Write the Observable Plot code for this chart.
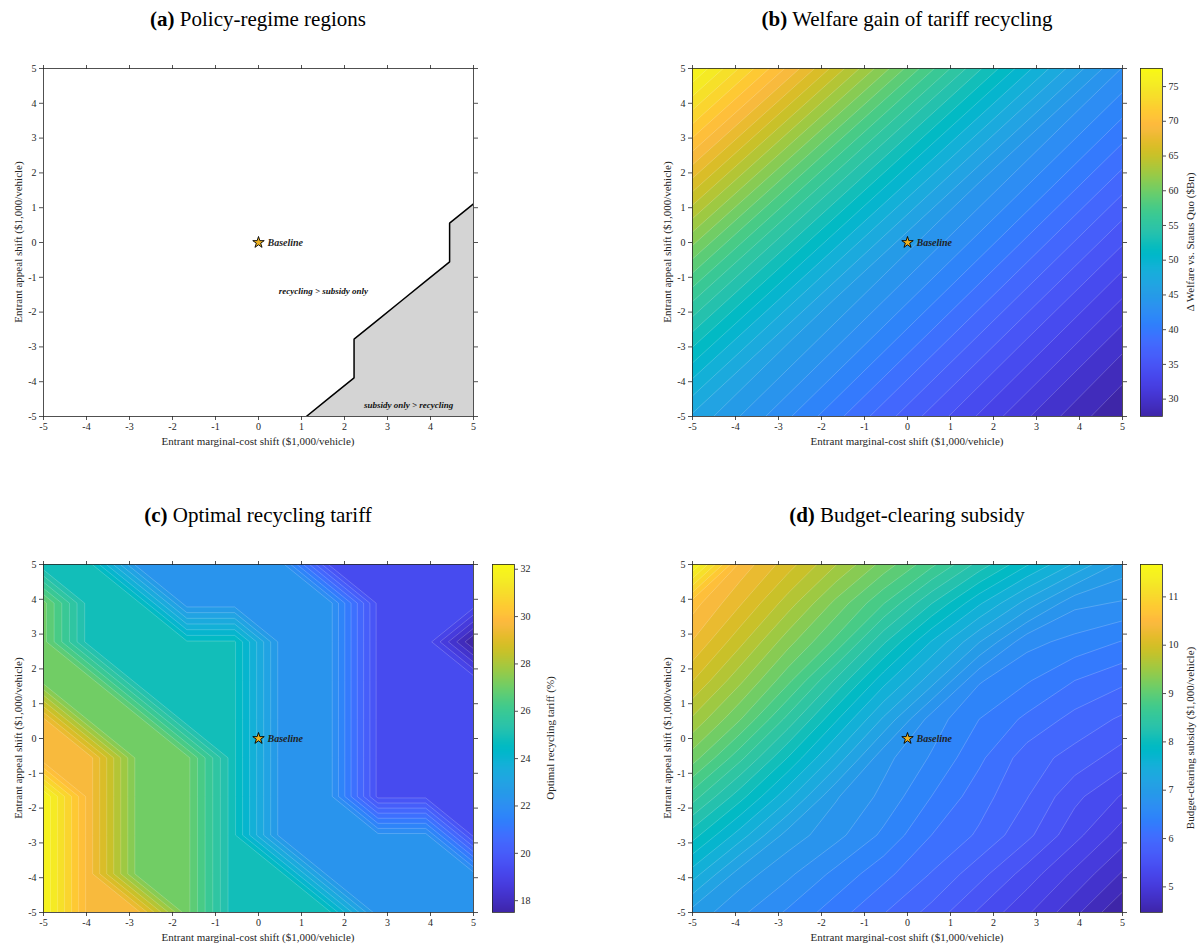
<!DOCTYPE html>
<html>
<head>
<meta charset="utf-8">
<script src="https://cdn.jsdelivr.net/npm/d3@7"></script>
<script src="https://cdn.jsdelivr.net/npm/@observablehq/plot@0.6"></script>
<style>
  body { margin: 0; background: #fff; }
  #fig { position: relative; width: 1201px; height: 949px; font-family: "Liberation Serif", "Times New Roman", serif; color: #262626; overflow: hidden; }
  #fig svg { position: absolute; }
  .title { position: absolute; font-size: 21px; line-height: 22px; color: #000; white-space: nowrap; transform: translateX(-50%); }
  .xlab { position: absolute; font-size: 11px; line-height: 13px; white-space: nowrap; transform: translateX(-50%); }
  .ylab { position: absolute; font-size: 11px; line-height: 13px; white-space: nowrap; transform: translate(-50%, -50%) rotate(-90deg); }
</style>
</head>
<body>
<div id="fig"></div>
<script>
// ---- Shared axis values ----------------------------------------------------
const axisTicks = [-5, -4, -3, -2, -1, 0, 1, 2, 3, 4, 5];
const baseline = [{x: 0, y: 0, label: "Baseline"}];

// Simulation grid: 10 × 10 samples from -5 to 5 on both shifts.
// Rows run from appeal shift +5 (top) down to -5; columns from cost shift -5 to +5.

// (a) 1 where "subsidy only" beats "recycling", 0 otherwise
const regimeRows = [
  [0, 0, 0, 0, 0, 0, 0, 0, 0, 0],
  [0, 0, 0, 0, 0, 0, 0, 0, 0, 0],
  [0, 0, 0, 0, 0, 0, 0, 0, 0, 0],
  [0, 0, 0, 0, 0, 0, 0, 0, 0, 0],
  [0, 0, 0, 0, 0, 0, 0, 0, 0, 1],
  [0, 0, 0, 0, 0, 0, 0, 0, 0, 1],
  [0, 0, 0, 0, 0, 0, 0, 0, 1, 1],
  [0, 0, 0, 0, 0, 0, 0, 1, 1, 1],
  [0, 0, 0, 0, 0, 0, 0, 1, 1, 1],
  [0, 0, 0, 0, 0, 0, 1, 1, 1, 1]
];
const regimeLabels = [
  {x: 1.51, y: -1.4, text: "recycling > subsidy only"},
  {x: 3.49, y: -4.66, text: "subsidy only > recycling"}
];

// (b) Δ welfare of tariff recycling vs. status quo ($Bn)
const welfareRows = [
  [77.6, 73.7, 69.8, 65.8, 61.8, 57.8, 54.0, 50.4, 46.9, 43.7],
  [74.1, 70.2, 66.2, 62.2, 58.2, 54.4, 50.8, 47.3, 44.1, 41.8],
  [70.6, 66.6, 62.6, 58.6, 54.8, 51.2, 47.7, 44.5, 42.2, 39.9],
  [67.0, 63.0, 59.0, 55.2, 51.6, 48.1, 44.9, 42.6, 40.3, 38.0],
  [63.4, 59.4, 55.6, 52.0, 48.5, 45.3, 43.0, 40.7, 38.4, 36.1],
  [59.8, 56.0, 52.4, 48.9, 45.7, 43.4, 41.1, 38.8, 36.5, 34.2],
  [56.4, 52.8, 49.3, 46.1, 43.8, 41.5, 39.2, 36.9, 34.6, 32.4],
  [53.2, 49.7, 46.5, 44.2, 41.9, 39.6, 37.3, 35.0, 32.8, 30.6],
  [50.1, 46.9, 44.6, 42.3, 40.0, 37.7, 35.4, 33.2, 31.0, 29.0],
  [47.3, 45.0, 42.7, 40.4, 38.1, 35.8, 33.6, 31.4, 29.4, 27.5]
];
const welfareTicks = [30, 35, 40, 45, 50, 55, 60, 65, 70, 75];

// (c) optimal recycling tariff (%)
const tariffRows = [
  [24.9, 24.9, 22.4, 22.4, 22.4, 22.4, 19.6, 19.6, 19.6, 19.6],
  [27.2, 24.9, 24.9, 22.4, 22.4, 22.4, 22.4, 19.6, 19.6, 19.6],
  [27.2, 24.9, 24.9, 24.9, 24.9, 22.4, 22.4, 19.6, 19.6, 17.5],
  [27.2, 27.2, 24.9, 24.9, 24.9, 22.4, 22.4, 19.6, 19.6, 19.6],
  [29.7, 27.2, 27.2, 24.9, 24.9, 22.4, 22.4, 19.6, 19.6, 19.6],
  [29.7, 29.7, 27.2, 27.2, 24.9, 22.4, 22.4, 19.6, 19.6, 19.6],
  [32.2, 29.7, 27.2, 27.2, 24.9, 22.4, 22.4, 19.6, 19.6, 19.6],
  [32.2, 29.7, 27.2, 27.2, 24.9, 22.4, 22.4, 22.4, 22.4, 19.6],
  [32.2, 29.7, 27.2, 27.2, 24.9, 24.9, 22.4, 22.4, 22.4, 22.4],
  [32.2, 29.7, 29.7, 27.2, 24.9, 24.9, 24.9, 22.4, 22.4, 22.4]
];
const tariffTicks = [18, 20, 22, 24, 26, 28, 30, 32];

// (d) budget-clearing subsidy ($1,000/vehicle)
const subsidyRows = [
  [11.67, 10.53, 10.13, 9.70, 9.26, 8.84, 8.36, 7.91, 7.50, 7.10],
  [10.67, 10.25, 9.78, 9.28, 8.80, 8.26, 7.74, 7.28, 6.86, 6.79],
  [10.40, 9.92, 9.40, 8.92, 8.28, 7.70, 7.18, 6.69, 6.57, 6.44],
  [10.06, 9.55, 9.02, 8.40, 7.78, 7.25, 6.65, 6.47, 6.27, 6.13],
  [9.66, 9.16, 8.55, 7.92, 7.32, 6.73, 6.45, 6.23, 6.03, 5.88],
  [9.24, 8.66, 8.06, 7.47, 6.87, 6.61, 6.31, 6.00, 5.84, 5.64],
  [8.70, 8.14, 7.58, 7.01, 6.76, 6.45, 6.17, 5.92, 5.60, 5.35],
  [8.15, 7.62, 7.09, 6.87, 6.59, 6.27, 6.06, 5.78, 5.43, 5.10],
  [7.62, 7.08, 6.85, 6.58, 6.33, 6.08, 5.80, 5.47, 5.15, 4.81],
  [7.10, 6.85, 6.60, 6.35, 6.10, 5.85, 5.52, 5.22, 4.88, 4.47]
];
const subsidyTicks = [5, 6, 7, 8, 9, 10, 11];

// ---- Styling ---------------------------------------------------------------
const INK = "#262626";
const PARULA = [
  "#3e26a8","#4029b5","#422ec0","#4332cb","#4537d5","#463cde","#4741e5","#4746eb",
  "#474cf0","#4852f4","#4758f8","#465efa","#4463fc","#4269fd","#3e6ffe","#3875fe",
  "#327cfc","#2e82fa","#2d88f7","#2d8df3","#2b92ef","#2797eb","#259be7","#24a0e4",
  "#20a5e2","#1ca9de","#18addb","#11b1d6","#08b4d0","#01b7ca","#02bac3","#0bbcbc",
  "#18bfb5","#24c1ae","#2cc3a7","#31c69f","#37c897","#3fca8e","#4acb84","#57cc7a",
  "#64cd6f","#72cd64","#80cc59","#8fcb4e","#9dc943","#abc73b","#b9c432","#c6c22a",
  "#d1bf27","#dcbd28","#e6bb2d","#efba35","#f8ba3d","#feba3c","#fec338","#fec833",
  "#fccf30","#f9d72d","#f7de2a","#f5e427","#f5eb24","#f6f020","#f7f41b","#f9fb0e"
];
const H = 10 / 9; // grid spacing
const gridBounds = {width: 10, height: 10, x1: -5 - H / 2, x2: 5 + H / 2, y1: 5 + H / 2, y2: -5 - H / 2};
const N_LEVELS = 40;

const flat = rows => rows.flat();
const extentOf = rows => d3.extent(rows.flat());
const levels = ([lo, hi]) => d3.range(N_LEVELS).map(k => lo + k * (hi - lo) / N_LEVELS);
const parulaScale = ([lo, hi]) => ({
  type: "linear",
  domain: PARULA.map((_, k) => lo + k * (hi - lo) / (PARULA.length - 1)),
  range: PARULA,
  interpolate: "rgb"
});
const plotStyle = {fontFamily: "'Liberation Serif', 'Times New Roman', serif", fontSize: "10px", color: INK, background: "transparent", overflow: "visible"};

const fig = document.getElementById("fig");
function place(el, left, top) { el.style.left = left + "px"; el.style.top = top + "px"; fig.appendChild(el); }
function addText(cls, html, left, top) {
  const d = document.createElement("div");
  d.className = cls; d.innerHTML = html;
  d.style.left = left + "px"; d.style.top = top + "px";
  fig.appendChild(d);
}

function axesMarks() {
  return [
    Plot.frame({stroke: INK, strokeWidth: 0.8}),
    Plot.axisX({ticks: axisTicks, tickSize: 4, tickPadding: 2, tickFormat: d => String(d), label: null, strokeWidth: 0.8}),
    Plot.axisX({anchor: "top", ticks: axisTicks, tickSize: 4, tickFormat: () => "", label: null, strokeWidth: 0.8}),
    Plot.axisY({ticks: axisTicks, tickSize: 4, tickPadding: 3, tickFormat: d => String(d), label: null, strokeWidth: 0.8}),
    Plot.axisY({anchor: "right", ticks: axisTicks, tickSize: 4, tickFormat: () => "", label: null, strokeWidth: 0.8})
  ];
}
function baselineMarks() {
  return [
    Plot.dot(baseline, {x: "x", y: "y", symbol: "star", r: 3.6, fill: "#EDB120", stroke: "#000", strokeWidth: 0.9}),
    Plot.text(baseline, {x: "x", y: "y", text: "label", dx: 9, textAnchor: "start", fontStyle: "italic", fontWeight: "bold", fontSize: 10, fill: "#1f1f1f"})
  ];
}
const panelSize = {width: 480, height: 386, marginLeft: 43, marginRight: 7, marginTop: 8, marginBottom: 30};

function heatPanel(rows, left, top) {
  const ext = extentOf(rows);
  const svg = Plot.plot({
    ...panelSize,
    x: {domain: [-5, 5]},
    y: {domain: [-5, 5]},
    color: parulaScale(ext),
    style: plotStyle,
    marks: [
      Plot.contour(flat(rows), {...gridBounds, fill: Plot.identity, thresholds: levels(ext),
        stroke: "white", strokeOpacity: 0.4, strokeWidth: 0.5, clip: true}),
      ...axesMarks(),
      ...baselineMarks()
    ]
  });
  place(svg, left, top);
}

function colorbar(rows, ticks, left, top) {
  const [lo, hi] = extentOf(rows);
  const n = 348;
  const slices = d3.range(n).map(k => ({a: lo + k * (hi - lo) / n, b: lo + (k + 1) * (hi - lo) / n}));
  const svg = Plot.plot({
    width: 56, height: 386, marginLeft: 2, marginRight: 32, marginTop: 8, marginBottom: 30,
    x: {domain: [0, 1], axis: null},
    y: {domain: [lo, hi]},
    color: parulaScale([lo, hi]),
    style: plotStyle,
    marks: [
      Plot.rect(slices, {x1: () => 0, x2: () => 1, y1: "a", y2: "b", fill: d => (d.a + d.b) / 2, shapeRendering: "crispEdges"}),
      Plot.frame({stroke: INK, strokeWidth: 0.8}),
      Plot.axisY({anchor: "right", ticks, tickSize: 3, tickPadding: 3, tickFormat: d => String(d), label: null, strokeWidth: 0.8})
    ]
  });
  place(svg, left, top);
}

// ---- (a) policy-regime regions --------------------------------------------
const svgA = Plot.plot({
  ...panelSize,
  x: {domain: [-5, 5]},
  y: {domain: [-5, 5]},
  style: plotStyle,
  marks: [
    Plot.contour(flat(regimeRows), {...gridBounds, value: Plot.identity, thresholds: [0.5],
      fill: "#d4d4d4", stroke: "#000", strokeWidth: 1.5, clip: true}),
    Plot.text(regimeLabels, {x: "x", y: "y", text: "text", fontStyle: "italic", fontWeight: "bold", fontSize: 9, fill: "#111"}),
    ...axesMarks(),
    ...baselineMarks()
  ]
});
place(svgA, 0, 60);

// ---- (b)–(d) contour panels -----------------------------------------------
heatPanel(welfareRows, 649, 60);
colorbar(welfareRows, welfareTicks, 1138, 60);
heatPanel(tariffRows, 0, 556);
colorbar(tariffRows, tariffTicks, 490, 556);
heatPanel(subsidyRows, 649, 556);
colorbar(subsidyRows, subsidyTicks, 1138, 556);

// ---- Titles and axis labels -------------------------------------------------
const xLabel = "Entrant marginal-cost shift ($1,000/vehicle)";
const yLabel = "Entrant appeal shift ($1,000/vehicle)";
addText("title", "<b>(a)</b> Policy-regime regions", 258, 8);
addText("title", "<b>(b)</b> Welfare gain of tariff recycling", 907, 8);
addText("title", "<b>(c)</b> Optimal recycling tariff", 258, 504);
addText("title", "<b>(d)</b> Budget-clearing subsidy", 907, 504);
for (const [cx, top] of [[258, 435], [907, 435], [258, 931], [907, 931]]) addText("xlab", xLabel, cx, top);
for (const [cx, cy] of [[18, 242], [667, 242], [18, 738], [667, 738]]) addText("ylab", yLabel, cx, cy);
addText("ylab", "Δ Welfare vs. Status Quo ($Bn)", 1190, 242);
addText("ylab", "Optimal recycling tariff (%)", 550, 738);
addText("ylab", "Budget-clearing subsidy ($1,000/vehicle)", 1190, 738);
</script>
</body>
</html>
